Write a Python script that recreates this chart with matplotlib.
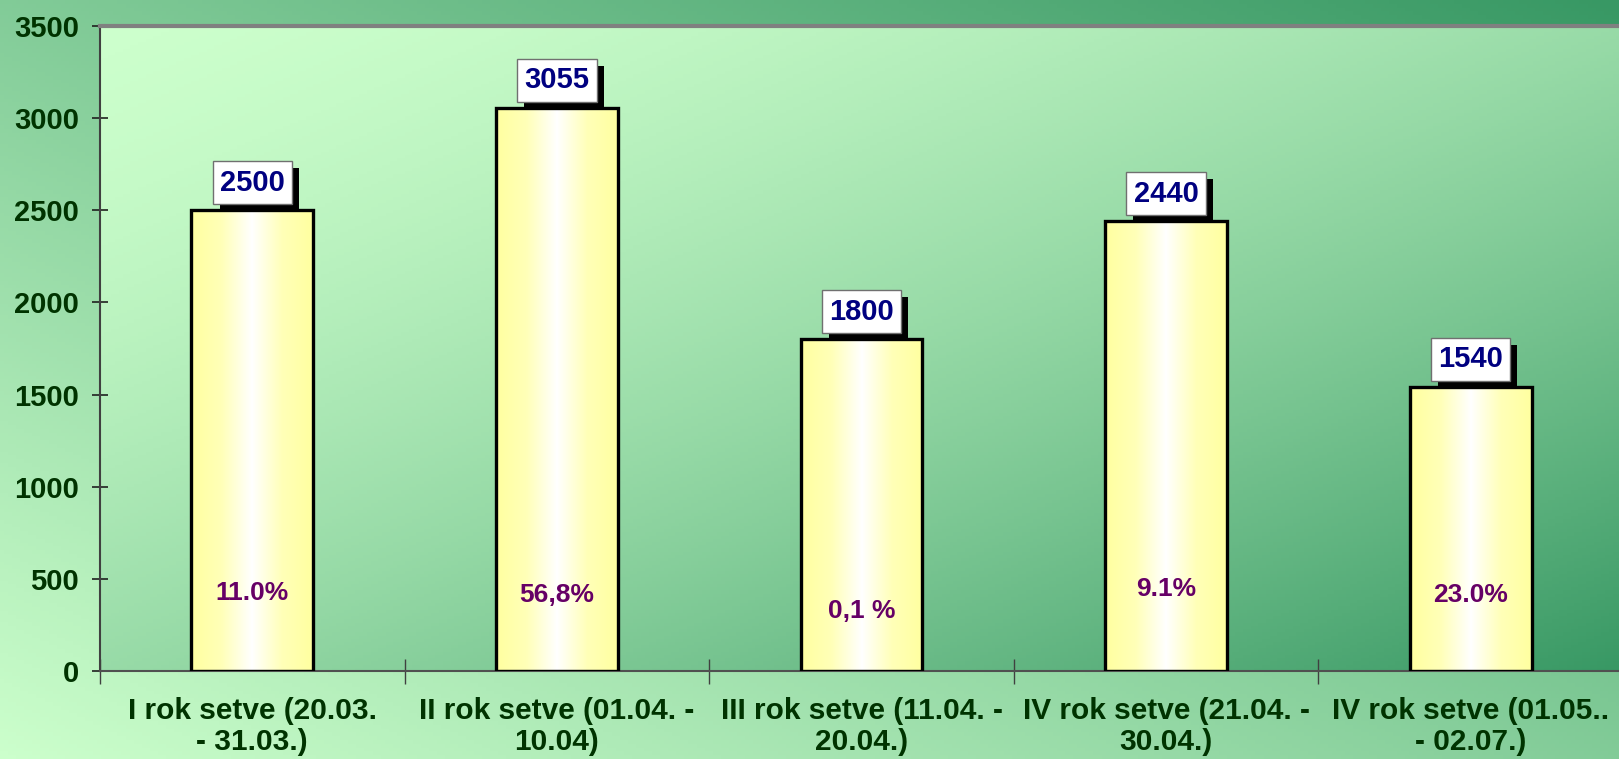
import numpy as np
import matplotlib
matplotlib.use("Agg")
import matplotlib.pyplot as plt
import matplotlib.patheffects as pe
from matplotlib.colors import LinearSegmentedColormap

categories = ["I rok setve (20.03.\n- 31.03.)",
              "II rok setve (01.04. -\n10.04)",
              "III rok setve (11.04. -\n20.04.)",
              "IV rok setve (21.04. -\n30.04.)",
              "IV rok setve (01.05..\n- 02.07.)"]
values = [2500, 3055, 1800, 2440, 1540]
pct_labels = ["11.0%", "56,8%", "0,1 %", "9.1%", "23.0%"]
pct_label_y = [421, 410, 326, 443, 415]

plt.rcParams['font.family'] = ['Liberation Sans', 'DejaVu Sans']

fig = plt.figure(figsize=(16.19, 7.59), dpi=100)

# figure background: light bottom-left -> dark top-right
bg = fig.add_axes([0, 0, 1, 1], zorder=-10)
bg.set_axis_off()
gx, gy = np.meshgrid(np.linspace(0, 1, 400), np.linspace(1, 0, 200))
bg_cmap = LinearSegmentedColormap.from_list("bg", ["#ccffcc", "#389864"])
bg.imshow((gx + gy) / 2, cmap=bg_cmap, aspect="auto", extent=[0, 1, 0, 1],
          vmin=0, vmax=1)

ax = fig.add_axes([100 / 1619, 88 / 759, 1523 / 1619, 645 / 759])
ax.set_xlim(-0.5, 4.5)
ax.set_ylim(0, 3500)

# plot area: light top-left -> dark bottom-right
ax_cmap = LinearSegmentedColormap.from_list("ax", ["#ccffcc", "#389864"])
t = ((gx + (1 - gy)) / 2) ** 1.5
ax.imshow(t, cmap=ax_cmap, aspect="auto", extent=[0, 1, 0, 1],
          transform=ax.transAxes, zorder=0, vmin=0, vmax=1)

x = np.arange(len(values))
bars = ax.bar(x, values, width=0.4, color="none", edgecolor="black",
              linewidth=2.4, zorder=3)

bar_cmap = LinearSegmentedColormap.from_list(
    "bar", ["#ffffa0", "#ffffb8", "#ffffff", "#ffffb8", "#ffffa0"])
grad = np.linspace(0, 1, 200).reshape(1, -1)
for b in bars:
    im = ax.imshow(grad, cmap=bar_cmap, aspect="auto", zorder=2,
                   extent=[b.get_x(), b.get_x() + b.get_width(), 0, b.get_height()])
    im.set_clip_path(b)

for xi, v in zip(x, values):
    txt = ax.annotate(str(v), (xi, v), xytext=(0, 20), textcoords="offset points",
                      ha="center", va="center", fontsize=21, fontweight="bold",
                      color="#000080", zorder=5,
                      bbox=dict(boxstyle="square,pad=0.25", fc="white",
                                ec="#707070", lw=1))
    txt.get_bbox_patch().set_path_effects(
        [pe.SimplePatchShadow(offset=(5, -5), shadow_rgbFace="black", alpha=1),
         pe.Normal()])

for xi, lab, py in zip(x, pct_labels, pct_label_y):
    ax.text(xi, py, lab, ha="center", va="center", fontsize=19,
            fontweight="bold", color="#660066", zorder=5)

ax.set_yticks(np.arange(0, 3501, 500))
ax.tick_params(axis="y", direction="inout", length=12, width=1.2,
               color="#202020", labelsize=21, labelcolor="#003300", pad=9)
for lab in ax.get_yticklabels():
    lab.set_fontweight("bold")

ax.set_xticks(x)
ax.set_xticklabels(categories, fontsize=21.5, fontweight="bold", color="#003300",
                   linespacing=1.12)
ax.tick_params(axis="x", length=0, pad=19)
ax.set_xticks(np.arange(-0.5, 4.6, 1), minor=True)
ax.tick_params(axis="x", which="minor", direction="inout", length=18,
               width=1, color="#404040")

ax.spines["top"].set_color("#808080")
ax.spines["top"].set_linewidth(3)
ax.spines["left"].set_color("#404040")
ax.spines["left"].set_linewidth(1.5)
ax.spines["bottom"].set_color("#505050")
ax.spines["bottom"].set_linewidth(1.5)
ax.spines["right"].set_visible(False)

fig.savefig("out.png", dpi=100)
